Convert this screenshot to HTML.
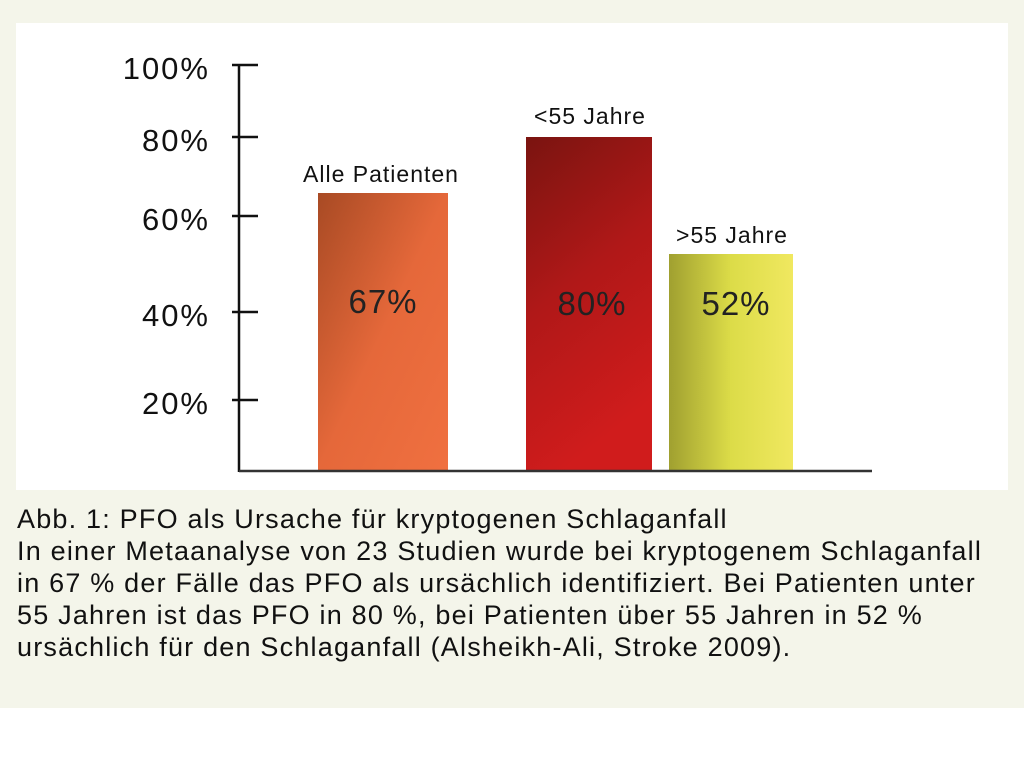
<!DOCTYPE html>
<html><head><style>
body{margin:0;width:1024px;height:773px;background:#fff;position:relative;overflow:hidden;font-family:"Liberation Sans",sans-serif}
.cream{position:absolute;left:0;top:0;width:1024px;height:708px;background:#f4f5ea}
.box{position:absolute;left:16px;top:23px;width:992px;height:467px;background:#fff}
.cap{position:absolute;left:17px;top:503px;font-size:27px;letter-spacing:1.2px;line-height:32px;color:#111;white-space:nowrap}
</style></head><body>
<div class="cream"></div><div class="box"></div>
<svg width="1024" height="773" style="position:absolute;left:0;top:0">
<defs>
<linearGradient id="g1" x1="0" y1="0" x2="1" y2="1"><stop offset="0" stop-color="#a84a24"/><stop offset="0.5" stop-color="#e5683a"/><stop offset="1" stop-color="#f07040"/></linearGradient>
<linearGradient id="g2" x1="0" y1="0" x2="0.3" y2="1"><stop offset="0" stop-color="#7a1410"/><stop offset="0.5" stop-color="#b01818"/><stop offset="1" stop-color="#d01c1c"/></linearGradient>
<linearGradient id="g3" x1="0" y1="0" x2="1" y2="0"><stop offset="0" stop-color="#a0a030"/><stop offset="0.5" stop-color="#dcdc48"/><stop offset="1" stop-color="#f0e860"/></linearGradient>
</defs>
<rect x="318" y="193" width="130" height="278" fill="url(#g1)"/>
<rect x="526" y="137" width="126" height="334" fill="url(#g2)"/>
<rect x="669" y="254" width="124" height="217" fill="url(#g3)"/>
<g stroke="#111" stroke-width="2.5">
<line x1="239" y1="65" x2="239" y2="472"/>
<line x1="232" y1="65" x2="258" y2="65"/>
<line x1="232" y1="137" x2="258" y2="137"/>
<line x1="232" y1="216" x2="258" y2="216"/>
<line x1="232" y1="312" x2="258" y2="312"/>
<line x1="232" y1="400" x2="258" y2="400"/>
<line x1="239" y1="471" x2="872" y2="471" stroke="#333"/>
</g>
<g font-family="Liberation Sans" font-size="31" letter-spacing="2" fill="#111" text-anchor="end">
<text x="210" y="79">100%</text><text x="210" y="151">80%</text><text x="210" y="230">60%</text><text x="210" y="326">40%</text><text x="210" y="414">20%</text>
</g>
<g font-family="Liberation Sans" font-size="23" letter-spacing="1" fill="#111" text-anchor="middle">
<text x="381" y="182">Alle Patienten</text><text x="590" y="124">&lt;55 Jahre</text><text x="732" y="243">&gt;55 Jahre</text>
</g>
<g font-family="Liberation Sans" font-size="33" letter-spacing="1" fill="#222" text-anchor="middle">
<text x="383" y="313">67%</text><text x="592" y="315">80%</text><text x="736" y="315">52%</text>
</g>
</svg>
<div class="cap">Abb. 1: PFO als Ursache für kryptogenen Schlaganfall<br>In einer Metaanalyse von 23 Studien wurde bei kryptogenem Schlaganfall<br>in 67 % der Fälle das PFO als ursächlich identifiziert. Bei Patienten unter<br>55 Jahren ist das PFO in 80 %, bei Patienten über 55 Jahren in 52 %<br>ursächlich für den Schlaganfall (Alsheikh-Ali, Stroke 2009).</div>
</body></html>
